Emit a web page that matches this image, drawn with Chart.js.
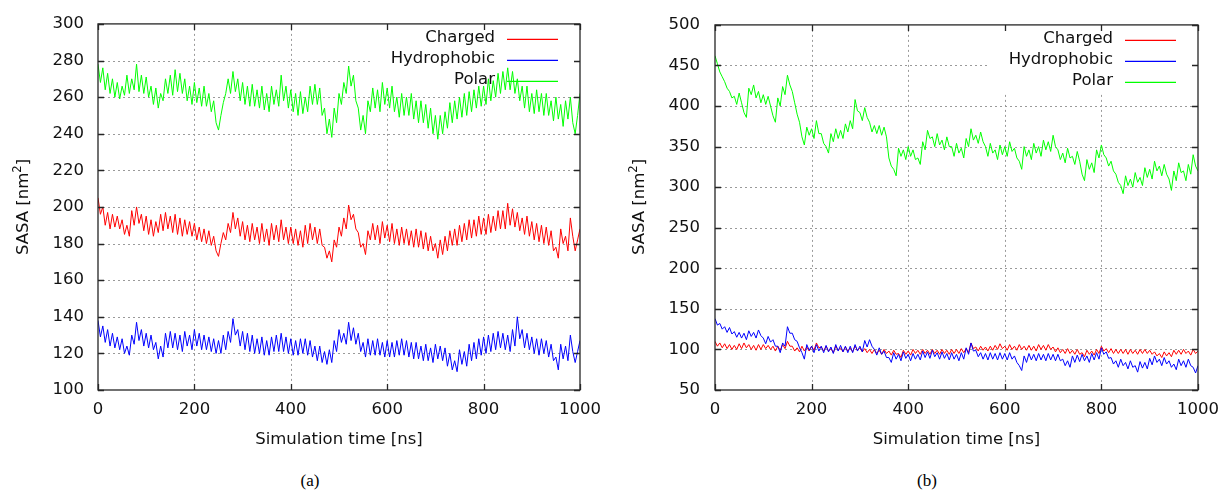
<!DOCTYPE html>
<html><head><meta charset="utf-8">
<script src="https://cdn.jsdelivr.net/npm/chart.js@4.4.1/dist/chart.umd.min.js"></script>
<style>
html,body{margin:0;padding:0;background:#fff;}
#wrap{position:relative;width:1223px;height:495px;overflow:hidden;background:#fff;}
.cv{position:absolute;top:0;}
.cap{position:absolute;font-family:"Liberation Serif","DejaVu Serif",serif;font-size:17px;color:#000;transform:translate(-50%,-50%);white-space:nowrap;}
</style></head><body>
<div id="wrap">
<canvas id="cA" class="cv" style="left:0" width="612" height="460"></canvas>
<canvas id="cB" class="cv" style="left:612px" width="618" height="460"></canvas>
<div class="cap" style="left:310px;top:481px">(a)</div>
<div class="cap" style="left:927px;top:481px">(b)</div>
</div>
<script>
const time = [0,5,10,15,20,25,30,35,40,45,50,55,60,65,70,75,80,85,90,95,
100,105,110,115,120,125,130,135,140,145,150,155,160,165,170,175,180,185,190,195,
200,205,210,215,220,225,230,235,240,245,250,255,260,265,270,275,280,285,290,295,
300,305,310,315,320,325,330,335,340,345,350,355,360,365,370,375,380,385,390,395,
400,405,410,415,420,425,430,435,440,445,450,455,460,465,470,475,480,485,490,495,
500,505,510,515,520,525,530,535,540,545,550,555,560,565,570,575,580,585,590,595,
600,605,610,615,620,625,630,635,640,645,650,655,660,665,670,675,680,685,690,695,
700,705,710,715,720,725,730,735,740,745,750,755,760,765,770,775,780,785,790,795,
800,805,810,815,820,825,830,835,840,845,850,855,860,865,870,875,880,885,890,895,
900,905,910,915,920,925,930,935,940,945,950,955,960,965,970,975,980,985,990,995,
1000];

const seriesNames = ['Charged','Hydrophobic','Polar'];
const seriesColors = ['#ff0000','#0000ff','#00ff00'];
const xTicks = [0,200,400,600,800,1000];

// panel (a)
const chargedA = [205,196,200,190,197,188,196,189,195,188,193,185,190,184,198,190,200,191,196,187,
195,185,193,184,192,186,196,187,197,188,195,186,196,185,194,184,193,185,192,184,
191,182,189,181,188,180,187,179,184,176,173,180,186,182,191,186,197,188,194,184,
192,182,190,181,191,182,189,180,191,181,188,179,191,182,190,181,193,182,189,180,
189,180,188,179,187,178,190,180,191,182,189,180,188,179,178,172,176,170,182,178,
189,184,194,188,201,193,196,188,186,178,180,174,187,182,191,182,190,180,192,183,
190,181,191,180,188,179,189,180,188,179,187,178,188,178,187,177,186,176,184,176,
180,172,182,174,184,176,187,179,188,179,190,181,191,182,193,183,193,184,195,185,
194,185,196,186,195,187,198,188,198,188,202,190,199,189,197,187,194,185,195,184,
192,182,191,181,190,180,189,179,187,176,178,172,188,180,184,176,194,184,176,182,
188];
const hydrophobicA = [138,129,135,126,133,124,131,123,129,122,128,120,124,119,130,125,137,127,133,124,
131,123,130,122,126,117,124,118,131,123,132,123,131,122,130,121,132,124,130,122,
133,124,131,122,130,122,129,121,128,120,127,120,130,122,132,126,139,130,133,124,
132,122,131,121,130,120,128,120,129,119,127,119,129,121,130,121,131,121,129,120,
128,119,127,119,128,120,128,119,127,118,124,116,124,115,121,114,122,115,127,121,
133,126,131,125,137,127,134,125,131,121,126,118,128,119,127,119,128,119,126,118,
127,118,126,118,127,119,128,119,127,118,126,117,126,117,124,116,125,116,123,115,
125,117,124,116,123,113,120,111,116,110,122,114,121,113,125,116,126,117,128,119,
129,120,130,121,131,122,132,123,131,122,130,121,133,124,140,128,133,123,131,122,
129,120,128,119,128,120,127,118,125,116,118,111,125,117,124,116,130,121,115,121,
127];
const polarA = [278,268,276,264,273,262,270,260,268,259,266,261,272,262,270,264,278,263,272,262,
271,260,266,256,265,254,262,258,270,262,272,261,275,263,273,262,270,258,266,256,
268,257,265,255,266,255,262,252,258,246,242,250,257,262,270,262,274,263,270,258,
268,256,266,255,267,255,264,254,266,253,262,252,266,256,264,255,272,258,266,254,
264,252,262,250,263,251,260,252,266,256,267,256,265,250,254,240,248,238,254,246,
262,256,268,262,277,266,272,258,254,242,250,240,258,252,265,254,264,252,268,256,
265,254,266,252,260,249,262,250,260,250,262,248,258,246,258,246,256,243,254,240,
250,237,250,240,252,243,257,246,258,248,260,249,262,250,263,252,264,254,266,255,
266,256,270,258,269,260,273,262,274,264,276,264,274,262,270,258,266,254,266,252,
262,251,264,252,262,250,262,250,258,247,260,248,256,244,258,248,260,246,240,250,
262];

// panel (b)
const chargedB = [110,104,108,102,107,101,106,100,105,100,107,101,108,102,106,100,105,99,106,100,
106,101,105,100,104,98,104,99,106,101,110,104,104,98,102,97,104,98,103,98,
104,99,108,102,103,98,104,98,101,96,104,99,102,97,103,98,102,97,104,99,
102,97,101,96,100,95,100,95,99,94,100,95,98,93,99,94,95,90,99,94,
98,93,100,95,99,94,100,95,99,94,100,95,99,94,100,95,99,94,100,95,
100,95,101,96,101,96,108,101,103,98,104,99,103,98,104,99,105,100,107,101,
104,99,106,100,104,99,106,100,104,99,105,99,104,98,106,100,105,99,106,100,
103,97,102,96,100,95,101,95,99,94,100,94,96,91,99,94,98,93,100,95,
104,98,101,96,101,95,100,95,100,95,100,94,100,95,99,94,100,95,100,95,
99,94,97,92,95,90,97,92,96,91,99,94,99,94,100,95,98,93,100,95,
98];
const hydrophobicB = [138,130,132,125,128,121,127,119,122,115,121,114,120,112,123,116,121,114,124,117,
114,107,116,109,112,104,104,96,108,104,128,120,120,112,110,102,96,88,106,99,
104,96,106,98,104,96,105,97,103,95,106,98,105,97,104,96,104,96,106,98,
104,97,111,103,112,104,100,93,102,94,98,90,90,84,96,88,94,86,97,89,
94,86,95,88,94,87,98,90,97,89,99,91,96,88,97,89,95,87,96,88,
94,86,96,88,102,94,108,98,99,91,96,88,95,87,96,88,95,87,96,88,
95,87,96,88,92,84,80,74,92,84,95,87,94,86,95,87,94,86,95,87,
94,86,94,86,88,80,86,78,92,84,93,85,94,86,92,84,95,87,96,88,
102,94,97,89,90,82,86,78,88,80,84,76,86,78,80,72,85,77,84,76,
89,81,92,84,88,80,90,82,86,78,82,75,88,80,86,78,88,80,78,71,
80];
const polarB = [462,452,442,436,430,422,418,410,412,402,416,404,392,386,422,414,426,410,418,404,
414,402,412,400,388,380,410,400,424,414,438,426,418,404,390,380,362,352,374,364,
372,360,382,366,366,354,350,342,366,356,372,360,370,360,378,368,382,372,408,394,
392,382,398,386,380,368,376,366,376,364,374,362,336,326,322,314,348,338,346,334,
350,338,346,334,336,328,356,346,370,360,362,350,366,352,358,346,362,350,350,338,
354,342,348,336,360,350,372,358,364,354,368,356,350,338,354,342,346,334,352,340,
350,338,356,344,348,336,332,322,350,338,346,334,354,342,350,338,358,346,356,344,
364,350,346,334,342,330,348,336,338,328,344,332,316,308,334,322,330,318,346,336,
352,340,336,326,332,320,316,306,302,292,314,302,310,300,318,306,312,302,324,312,
322,310,332,320,326,314,328,316,310,296,320,308,330,318,320,308,328,316,340,326,
320];

const xTitle = 'Simulation time [ns]';
const yTitleMain = 'SASA [nm';
const yTitleSup = '2';
const yTitleEnd = ']';

// ---- styling ----
const FONT = '"DejaVu Sans", sans-serif';
const FS = 16.5;
const TXT = '#111';

function pts(vals){ return time.map((t,i)=>({x:t, y:vals[i]})); }

function framePlugin(cfg){
  return {
    id:'frame'+cfg.id,
    beforeDatasetsDraw(chart){
      const {ctx, chartArea:a, scales:{x,y}} = chart;
      ctx.save();
      ctx.strokeStyle = '#9a9a9a'; ctx.lineWidth = 1; ctx.setLineDash([2,3]);
      x.ticks.forEach(t=>{
        if (t.value<=x.min || t.value>=x.max) return;
        const px = Math.round(x.getPixelForValue(t.value))+0.5;
        ctx.beginPath(); ctx.moveTo(px,a.top); ctx.lineTo(px,a.bottom); ctx.stroke();
      });
      y.ticks.forEach(t=>{
        if (t.value<=y.min || t.value>=y.max) return;
        const py = Math.round(y.getPixelForValue(t.value))+0.5;
        ctx.beginPath(); ctx.moveTo(a.left,py); ctx.lineTo(a.right,py); ctx.stroke();
      });
      ctx.setLineDash([]);
      ctx.fillStyle = '#fff';
      ctx.fillRect(a.right-208, a.top+1, 207, 68);
      ctx.restore();
    },
    afterDatasetsDraw(chart){
      const {ctx, chartArea:a, scales:{x,y}} = chart;
      ctx.save();
      ctx.strokeStyle = '#262626'; ctx.lineWidth = 1.3;
      ctx.strokeRect(a.left, a.top, a.right-a.left, a.bottom-a.top);
      const L = 6;
      ctx.beginPath();
      x.ticks.forEach(t=>{
        const px = Math.round(x.getPixelForValue(t.value))+0.5;
        ctx.moveTo(px,a.bottom); ctx.lineTo(px,a.bottom-L);
        ctx.moveTo(px,a.top); ctx.lineTo(px,a.top+L);
      });
      y.ticks.forEach(t=>{
        const py = Math.round(y.getPixelForValue(t.value))+0.5;
        ctx.moveTo(a.left,py); ctx.lineTo(a.left+L,py);
        ctx.moveTo(a.right,py); ctx.lineTo(a.right-L,py);
      });
      ctx.stroke();
      ctx.font = FS+'px '+FONT; ctx.fillStyle = TXT;
      ctx.textAlign = 'right'; ctx.textBaseline = 'middle';
      seriesNames.forEach((n,i)=>{
        const yy = a.top + 15 + i*21;
        ctx.fillText(n, a.right-85, yy-1);
        ctx.strokeStyle = seriesColors[i]; ctx.lineWidth = 1.2;
        ctx.beginPath(); ctx.moveTo(a.right-73, yy+0.5); ctx.lineTo(a.right-22, yy+0.5); ctx.stroke();
      });
      ctx.textAlign = 'center'; ctx.textBaseline = 'middle';
      ctx.fillText(xTitle, (a.left+a.right)/2, 440);
      ctx.translate(cfg.yTitleX, 207);
      ctx.rotate(-Math.PI/2);
      ctx.textAlign = 'left'; ctx.textBaseline = 'alphabetic';
      const f1 = FS+'px '+FONT, f2 = (FS*0.7)+'px '+FONT;
      ctx.font = f1; const w1 = ctx.measureText(yTitleMain).width, w3 = ctx.measureText(yTitleEnd).width;
      ctx.font = f2; const w2 = ctx.measureText(yTitleSup).width;
      let sx = -(w1+w2+w3)/2; const base = 6;
      ctx.font = f1; ctx.fillText(yTitleMain, sx, base); sx += w1;
      ctx.font = f2; ctx.fillText(yTitleSup, sx, base-7); sx += w2;
      ctx.font = f1; ctx.fillText(yTitleEnd, sx, base);
      ctx.restore();
    }
  };
}

function makeChart(cfg){
  const ds = [cfg.charged, cfg.hydrophobic, cfg.polar].map((v,i)=>({
    label: seriesNames[i], data: pts(v), borderColor: seriesColors[i],
    borderWidth: 1, pointRadius: 0, tension: 0, fill:false, order: 3-i
  }));
  return new Chart(document.getElementById(cfg.id), {
    type:'line',
    data:{datasets: ds},
    options:{
      responsive:false, animation:false, events:[],
      layout:{padding:{left:0, right:cfg.padRight, top:19, bottom:0}},
      plugins:{legend:{display:false}, tooltip:{enabled:false}},
      scales:{
        x:{type:'linear', min:0, max:1000,
           afterBuildTicks:(s)=>{ s.ticks = xTicks.map(v=>({value:v})); },
           grid:{display:false, drawTicks:false}, border:{display:false},
           ticks:{autoSkip:false, maxRotation:0, padding:10, color:TXT, font:{family:FONT, size:FS},
                  callback:(v)=>String(v)},
           afterFit:(s)=>{ s.height = 70; }},
        y:{type:'linear', min:cfg.yMin, max:cfg.yMax,
           grid:{display:false, drawTicks:false}, border:{display:false},
           ticks:{stepSize:cfg.yStep, autoSkip:false, padding:cfg.yPad, color:TXT, font:{family:FONT, size:FS},
                  callback:(v)=>String(v)},
           afterFit:(s)=>{ s.width = cfg.yWidth; }}
      }
    },
    plugins:[framePlugin(cfg)]
  });
}

makeChart({id:'cA', charged:chargedA, hydrophobic:hydrophobicA, polar:polarA,
  yMin:100, yMax:300, yStep:20, yWidth:98, yPad:14, padRight:32, yTitleX:21.5});
makeChart({id:'cB', charged:chargedB, hydrophobic:hydrophobicB, polar:polarB,
  yMin:50, yMax:500, yStep:50, yWidth:103, yPad:15, padRight:32, yTitleX:25.5});
</script>
</body></html>
